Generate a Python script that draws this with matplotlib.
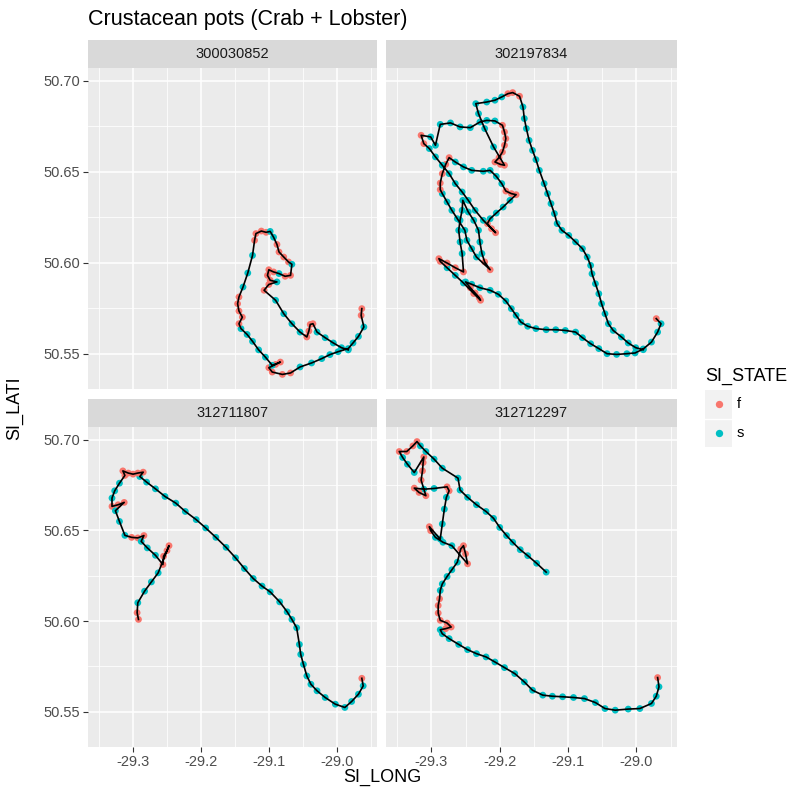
import matplotlib
matplotlib.use("Agg")
import matplotlib.pyplot as plt
from matplotlib.ticker import FixedLocator, NullFormatter

plt.rcParams["font.family"] = ["Liberation Sans", "DejaVu Sans"]

# ── Data: (SI_LONG, SI_LATI, SI_STATE) per vessel, in track order ────────────
vessels = ["300030852", "302197834", "312711807", "312712297"]

track_300030852 = [
    (-28.963, 50.5747, "f"), (-28.964, 50.5710, "f"), (-28.960, 50.5646, "s"),
    (-28.968, 50.5594, "s"), (-28.976, 50.5558, "s"), (-28.983, 50.5527, "s"),
    (-28.998, 50.5510, "s"), (-29.010, 50.5494, "s"), (-29.022, 50.5472, "s"),
    (-29.037, 50.5448, "s"), (-29.054, 50.5426, "s"), (-29.068, 50.5393, "f"),
    (-29.080, 50.5385, "f"), (-29.095, 50.5398, "f"), (-29.100, 50.5422, "f"),
    (-29.090, 50.5440, "f"), (-29.083, 50.5453, "f"), (-29.095, 50.5435, "s"),
    (-29.105, 50.5480, "s"), (-29.115, 50.5520, "s"), (-29.124, 50.5567, "s"),
    (-29.132, 50.5605, "s"), (-29.141, 50.5637, "s"), (-29.144, 50.5664, "f"),
    (-29.139, 50.5700, "f"), (-29.144, 50.5734, "f"), (-29.146, 50.5774, "f"),
    (-29.144, 50.5811, "f"), (-29.138, 50.5866, "s"), (-29.131, 50.5943, "s"),
    (-29.124, 50.6040, "s"), (-29.121, 50.6123, "f"), (-29.119, 50.6160, "f"),
    (-29.111, 50.6174, "f"), (-29.104, 50.6167, "f"), (-29.098, 50.6172, "s"),
    (-29.093, 50.6140, "s"), (-29.088, 50.6100, "f"), (-29.085, 50.6059, "f"),
    (-29.078, 50.6031, "f"), (-29.071, 50.6004, "f"), (-29.066, 50.5991, "s"),
    (-29.068, 50.5930, "f"), (-29.076, 50.5925, "f"), (-29.085, 50.5940, "s"),
    (-29.093, 50.5949, "f"), (-29.100, 50.5961, "f"), (-29.102, 50.5930, "f"),
    (-29.098, 50.5903, "f"), (-29.088, 50.5894, "s"), (-29.100, 50.5880, "f"),
    (-29.107, 50.5848, "f"), (-29.090, 50.5793, "s"), (-29.078, 50.5719, "s"),
    (-29.066, 50.5664, "s"), (-29.054, 50.5618, "s"), (-29.044, 50.5591, "f"),
    (-29.041, 50.5624, "f"), (-29.039, 50.5660, "f"), (-29.035, 50.5664, "f"),
    (-29.029, 50.5618, "s"), (-29.017, 50.5587, "s"), (-29.005, 50.5558, "s"),
    (-28.993, 50.5532, "s"), (-28.983, 50.5520, "s"),
]

track_302197834 = [
    (-28.971, 50.5692, "f"), (-28.964, 50.5664, "s"), (-28.969, 50.5618, "s"),
    (-28.978, 50.5563, "s"), (-28.990, 50.5525, "s"), (-29.002, 50.5503, "s"),
    (-29.014, 50.5499, "s"), (-29.029, 50.5495, "s"), (-29.043, 50.5499, "s"),
    (-29.055, 50.5527, "s"), (-29.067, 50.5554, "s"), (-29.079, 50.5587, "s"),
    (-29.089, 50.5618, "s"), (-29.104, 50.5627, "s"), (-29.118, 50.5631, "s"),
    (-29.132, 50.5631, "s"), (-29.147, 50.5637, "s"), (-29.159, 50.5650, "s"),
    (-29.169, 50.5673, "s"), (-29.176, 50.5710, "s"), (-29.183, 50.5747, "s"),
    (-29.191, 50.5789, "s"), (-29.202, 50.5826, "s"), (-29.214, 50.5848, "s"),
    (-29.229, 50.5862, "s"), (-29.241, 50.5881, "s"), (-29.250, 50.5894, "s"),
    (-29.243, 50.5862, "f"), (-29.236, 50.5833, "f"), (-29.230, 50.5807, "f"),
    (-29.228, 50.5793, "f"), (-29.238, 50.5830, "f"), (-29.253, 50.5888, "s"),
    (-29.265, 50.5930, "s"), (-29.277, 50.5972, "s"), (-29.287, 50.6007, "f"),
    (-29.289, 50.6022, "f"), (-29.277, 50.5998, "f"), (-29.265, 50.5972, "f"),
    (-29.253, 50.5949, "f"), (-29.255, 50.6050, "s"), (-29.258, 50.6114, "s"),
    (-29.260, 50.6178, "s"), (-29.258, 50.6233, "s"), (-29.255, 50.6288, "s"),
    (-29.254, 50.6343, "s"), (-29.246, 50.6279, "s"), (-29.238, 50.6233, "s"),
    (-29.231, 50.6178, "s"), (-29.229, 50.6114, "s"), (-29.226, 50.6050, "s"),
    (-29.222, 50.6004, "f"), (-29.214, 50.5961, "f"), (-29.234, 50.6031, "s"),
    (-29.241, 50.6077, "s"), (-29.248, 50.6123, "s"), (-29.251, 50.6178, "s"),
    (-29.262, 50.6242, "s"), (-29.270, 50.6288, "s"), (-29.277, 50.6334, "s"),
    (-29.284, 50.6380, "s"), (-29.287, 50.6402, "f"), (-29.287, 50.6438, "f"),
    (-29.284, 50.6490, "f"), (-29.279, 50.6541, "f"), (-29.274, 50.6578, "f"),
    (-29.265, 50.6554, "s"), (-29.253, 50.6527, "s"), (-29.241, 50.6508, "s"),
    (-29.224, 50.6503, "s"), (-29.214, 50.6508, "s"), (-29.205, 50.6475, "s"),
    (-29.197, 50.6435, "s"), (-29.191, 50.6394, "f"), (-29.183, 50.6380, "f"),
    (-29.176, 50.6374, "f"), (-29.185, 50.6343, "s"), (-29.195, 50.6306, "s"),
    (-29.205, 50.6273, "s"), (-29.214, 50.6242, "s"), (-29.218, 50.6215, "f"),
    (-29.212, 50.6187, "f"), (-29.206, 50.6165, "f"), (-29.224, 50.6233, "s"),
    (-29.236, 50.6288, "s"), (-29.246, 50.6343, "s"), (-29.255, 50.6389, "s"),
    (-29.265, 50.6435, "s"), (-29.274, 50.6490, "s"), (-29.284, 50.6536, "s"),
    (-29.294, 50.6582, "s"), (-29.303, 50.6628, "s"), (-29.311, 50.6655, "f"),
    (-29.315, 50.6701, "f"), (-29.301, 50.6692, "s"), (-29.294, 50.6646, "s"),
    (-29.287, 50.6761, "s"), (-29.272, 50.6769, "s"), (-29.258, 50.6747, "s"),
    (-29.243, 50.6743, "s"), (-29.229, 50.6774, "s"), (-29.219, 50.6783, "s"),
    (-29.207, 50.6780, "s"), (-29.196, 50.6756, "f"), (-29.193, 50.6719, "f"),
    (-29.191, 50.6683, "f"), (-29.193, 50.6646, "f"), (-29.196, 50.6609, "f"),
    (-29.201, 50.6578, "f"), (-29.207, 50.6554, "f"), (-29.199, 50.6541, "f"),
    (-29.193, 50.6536, "f"), (-29.209, 50.6637, "s"), (-29.222, 50.6738, "s"),
    (-29.231, 50.6820, "s"), (-29.235, 50.6875, "s"), (-29.219, 50.6884, "s"),
    (-29.207, 50.6894, "s"), (-29.197, 50.6912, "s"), (-29.188, 50.6930, "f"),
    (-29.181, 50.6936, "f"), (-29.171, 50.6916, "f"), (-29.166, 50.6857, "s"),
    (-29.164, 50.6793, "s"), (-29.161, 50.6738, "s"), (-29.157, 50.6673, "s"),
    (-29.152, 50.6618, "s"), (-29.147, 50.6567, "s"), (-29.142, 50.6508, "s"),
    (-29.135, 50.6435, "s"), (-29.130, 50.6380, "s"), (-29.125, 50.6325, "s"),
    (-29.120, 50.6270, "s"), (-29.116, 50.6215, "s"), (-29.109, 50.6178, "s"),
    (-29.099, 50.6150, "s"), (-29.089, 50.6114, "s"), (-29.079, 50.6077, "s"),
    (-29.072, 50.6031, "s"), (-29.067, 50.5985, "s"), (-29.065, 50.5939, "s"),
    (-29.060, 50.5884, "s"), (-29.055, 50.5829, "s"), (-29.051, 50.5774, "s"),
    (-29.046, 50.5719, "s"), (-29.041, 50.5664, "s"), (-29.034, 50.5627, "s"),
    (-29.022, 50.5591, "s"), (-29.012, 50.5558, "s"), (-29.001, 50.5532, "s"),
    (-28.990, 50.5521, "s"),
]

track_312711807 = [
    (-28.963, 50.5684, "f"), (-28.961, 50.5642, "s"), (-28.968, 50.5596, "s"),
    (-28.978, 50.5556, "s"), (-28.988, 50.5523, "s"), (-29.002, 50.5541, "s"),
    (-29.017, 50.5578, "s"), (-29.029, 50.5615, "s"), (-29.038, 50.5651, "s"),
    (-29.044, 50.5697, "s"), (-29.049, 50.5761, "s"), (-29.053, 50.5816, "s"),
    (-29.055, 50.5871, "s"), (-29.059, 50.5963, "s"), (-29.066, 50.6009, "s"),
    (-29.073, 50.6051, "s"), (-29.084, 50.6106, "s"), (-29.098, 50.6161, "s"),
    (-29.110, 50.6193, "s"), (-29.123, 50.6235, "s"), (-29.136, 50.6290, "s"),
    (-29.149, 50.6349, "s"), (-29.163, 50.6407, "s"), (-29.178, 50.6462, "s"),
    (-29.193, 50.6514, "s"), (-29.207, 50.6560, "s"), (-29.223, 50.6605, "s"),
    (-29.237, 50.6651, "s"), (-29.253, 50.6688, "s"), (-29.267, 50.6730, "s"),
    (-29.280, 50.6767, "s"), (-29.290, 50.6798, "s"), (-29.285, 50.6822, "f"),
    (-29.293, 50.6817, "f"), (-29.300, 50.6811, "f"), (-29.307, 50.6817, "f"),
    (-29.315, 50.6829, "f"), (-29.312, 50.6804, "f"), (-29.320, 50.6761, "s"),
    (-29.327, 50.6719, "s"), (-29.331, 50.6679, "s"), (-29.331, 50.6633, "f"),
    (-29.322, 50.6642, "f"), (-29.313, 50.6655, "f"), (-29.326, 50.6609, "s"),
    (-29.320, 50.6550, "s"), (-29.312, 50.6473, "s"), (-29.302, 50.6462, "f"),
    (-29.293, 50.6459, "f"), (-29.284, 50.6472, "f"), (-29.288, 50.6440, "s"),
    (-29.279, 50.6404, "s"), (-29.267, 50.6363, "s"), (-29.256, 50.6312, "f"),
    (-29.255, 50.6358, "f"), (-29.250, 50.6389, "f"), (-29.247, 50.6416, "f"),
    (-29.263, 50.6266, "s"), (-29.273, 50.6216, "s"), (-29.283, 50.6165, "s"),
    (-29.293, 50.6101, "s"), (-29.294, 50.6046, "f"), (-29.292, 50.6009, "f"),
]

track_312712297 = [
    (-28.969, 50.5688, "f"), (-28.967, 50.5637, "s"), (-28.971, 50.5585, "s"),
    (-28.978, 50.5545, "s"), (-28.995, 50.5517, "s"), (-29.012, 50.5514, "s"),
    (-29.031, 50.5508, "s"), (-29.046, 50.5517, "s"), (-29.060, 50.5550, "s"),
    (-29.076, 50.5572, "s"), (-29.092, 50.5578, "s"), (-29.108, 50.5582, "s"),
    (-29.123, 50.5585, "s"), (-29.137, 50.5591, "s"), (-29.152, 50.5618, "s"),
    (-29.164, 50.5664, "s"), (-29.178, 50.5710, "s"), (-29.193, 50.5743, "s"),
    (-29.207, 50.5774, "s"), (-29.220, 50.5802, "s"), (-29.234, 50.5820, "s"),
    (-29.247, 50.5842, "s"), (-29.260, 50.5871, "s"), (-29.274, 50.5903, "s"),
    (-29.284, 50.5930, "s"), (-29.287, 50.5952, "s"), (-29.279, 50.5958, "f"),
    (-29.271, 50.5967, "f"), (-29.277, 50.5989, "f"), (-29.287, 50.6004, "f"),
    (-29.290, 50.6044, "f"), (-29.290, 50.6086, "f"), (-29.288, 50.6123, "f"),
    (-29.287, 50.6169, "s"), (-29.284, 50.6205, "s"), (-29.277, 50.6246, "s"),
    (-29.270, 50.6283, "s"), (-29.262, 50.6325, "s"), (-29.257, 50.6398, "f"),
    (-29.253, 50.6416, "f"), (-29.250, 50.6371, "f"), (-29.247, 50.6316, "f"),
    (-29.270, 50.6416, "s"), (-29.283, 50.6435, "s"), (-29.294, 50.6462, "s"),
    (-29.301, 50.6499, "f"), (-29.303, 50.6521, "f"), (-29.287, 50.6453, "s"),
    (-29.284, 50.6536, "s"), (-29.281, 50.6618, "s"), (-29.278, 50.6683, "s"),
    (-29.274, 50.6719, "f"), (-29.277, 50.6741, "f"), (-29.296, 50.6732, "s"),
    (-29.311, 50.6728, "s"), (-29.325, 50.6734, "f"), (-29.318, 50.6710, "f"),
    (-29.308, 50.6692, "f"), (-29.315, 50.6778, "f"), (-29.313, 50.6829, "f"),
    (-29.312, 50.6875, "f"), (-29.311, 50.6906, "f"), (-29.325, 50.6820, "s"),
    (-29.335, 50.6866, "s"), (-29.342, 50.6903, "s"), (-29.347, 50.6936, "f"),
    (-29.336, 50.6936, "f"), (-29.327, 50.6967, "f"), (-29.321, 50.6991, "f"),
    (-29.316, 50.6967, "s"), (-29.308, 50.6936, "s"), (-29.296, 50.6894, "s"),
    (-29.284, 50.6844, "s"), (-29.261, 50.6789, "s"), (-29.258, 50.6723, "s"),
    (-29.247, 50.6683, "s"), (-29.234, 50.6642, "s"), (-29.220, 50.6605, "s"),
    (-29.209, 50.6567, "s"), (-29.200, 50.6517, "s"), (-29.190, 50.6472, "s"),
    (-29.181, 50.6435, "s"), (-29.170, 50.6394, "s"), (-29.159, 50.6361, "s"),
    (-29.146, 50.6319, "s"), (-29.132, 50.6270, "s"),
]

tracks = [track_300030852, track_302197834, track_312711807, track_312712297]

states = ["f", "s"]
state_colors = {"f": "#F8766D", "s": "#00BFC4"}
x_ticks = [-29.3, -29.2, -29.1, -29.0]
y_ticks = [50.55, 50.60, 50.65, 50.70]
x_minor = [-29.35, -29.25, -29.15, -29.05, -28.95]
y_minor = [50.525, 50.575, 50.625, 50.675, 50.725]

# shared scales with ggplot's 5% expansion
all_lon = [p[0] for t in tracks for p in t]
all_lat = [p[1] for t in tracks for p in t]
xpad = (max(all_lon) - min(all_lon)) * 0.05
ypad = (max(all_lat) - min(all_lat)) * 0.05
xlim = (min(all_lon) - xpad, max(all_lon) + xpad)
ylim = (min(all_lat) - ypad, max(all_lat) + ypad)

# ── Figure ───────────────────────────────────────────────────────────────────
W = H = 796
fig = plt.figure(figsize=(W / 100, H / 100), dpi=100)
fig.patch.set_facecolor("white")


def px_axes(l, t, r, b):
    return fig.add_axes([l / W, 1 - b / H, (r - l) / W, (b - t) / H])


cols = [(88, 377), (386, 677)]
rows = [(68, 389), (427, 747)]
strip_h = 28

for i, (vessel, track) in enumerate(zip(vessels, tracks)):
    r, c = divmod(i, 2)
    l, rr = cols[c]
    t, b = rows[r]

    # strip
    sx = px_axes(l, t - strip_h, rr, t)
    sx.set_facecolor("#D9D9D9")
    sx.set_xticks([]); sx.set_yticks([])
    for s in sx.spines.values():
        s.set_visible(False)
    sx.text(0.5, 0.5, vessel, ha="center", va="center", fontsize=10.5,
            color="#1A1A1A", transform=sx.transAxes)

    ax = px_axes(l, t, rr, b)
    ax.set_facecolor("#EBEBEB")
    for s in ax.spines.values():
        s.set_visible(False)
    ax.set_axisbelow(True)

    lon = [p[0] for p in track]
    lat = [p[1] for p in track]
    st = [p[2] for p in track]
    ax.scatter(lon, lat, c=[state_colors[v] for v in st], s=24, lw=0, zorder=2)
    ax.plot(lon, lat, color="black", lw=1.2, zorder=3)

    ax.set_xlim(*xlim)
    ax.set_ylim(*ylim)
    ax.xaxis.set_major_locator(FixedLocator(x_ticks))
    ax.yaxis.set_major_locator(FixedLocator(y_ticks))
    ax.xaxis.set_minor_locator(FixedLocator(x_minor))
    ax.yaxis.set_minor_locator(FixedLocator(y_minor))
    ax.xaxis.set_minor_formatter(NullFormatter())
    ax.yaxis.set_minor_formatter(NullFormatter())
    ax.grid(which="major", color="white", lw=1.1)
    ax.grid(which="minor", color="white", lw=0.55)
    ax.tick_params(which="minor", length=0)
    ax.tick_params(which="major", length=3.5, width=0.8, color="#333333",
                   labelcolor="#4D4D4D", labelsize=10.5, pad=2)
    ax.set_xticklabels([f"{v:.1f}" for v in x_ticks])
    ax.set_yticklabels([f"{v:.2f}" for v in y_ticks])
    if r == 0:
        ax.tick_params(axis="x", which="major", length=0, labelbottom=False)
    if c == 1:
        ax.tick_params(axis="y", which="major", length=0, labelleft=False)

# titles
fig.text(88 / W, 1 - 20 / H, "Crustacean pots (Crab + Lobster)", ha="left",
         va="center", fontsize=15.5, color="black")
fig.text((88 + 677) / 2 / W, 1 - 777 / H, "SI_LONG", ha="center", va="center",
         fontsize=13, color="black")
fig.text(15 / W, 1 - 408 / H, "SI_LATI", ha="center", va="center",
         fontsize=13, color="black", rotation=90)

# legend
fig.text(705 / W, 1 - 376 / H, "SI_STATE", ha="left", va="center",
         fontsize=13, color="black")
lg = px_axes(705, 390, 732, 447)
lg.set_facecolor("#F2F2F2")
lg.set_xlim(0, 1)
lg.set_ylim(len(states), 0)
lg.set_xticks([]); lg.set_yticks([])
for s in lg.spines.values():
    s.set_visible(False)
lg.axhline(1, color="white", lw=1)
for k, name in enumerate(states):
    lg.scatter([0.5], [k + 0.5], color=state_colors[name], s=28, lw=0)
    fig.text(737 / W, 1 - (390 + 28.5 * (k + 0.5)) / H, name, ha="left",
             va="center", fontsize=10.5, color="black")

fig.savefig("out.png", dpi=100, facecolor="white")
